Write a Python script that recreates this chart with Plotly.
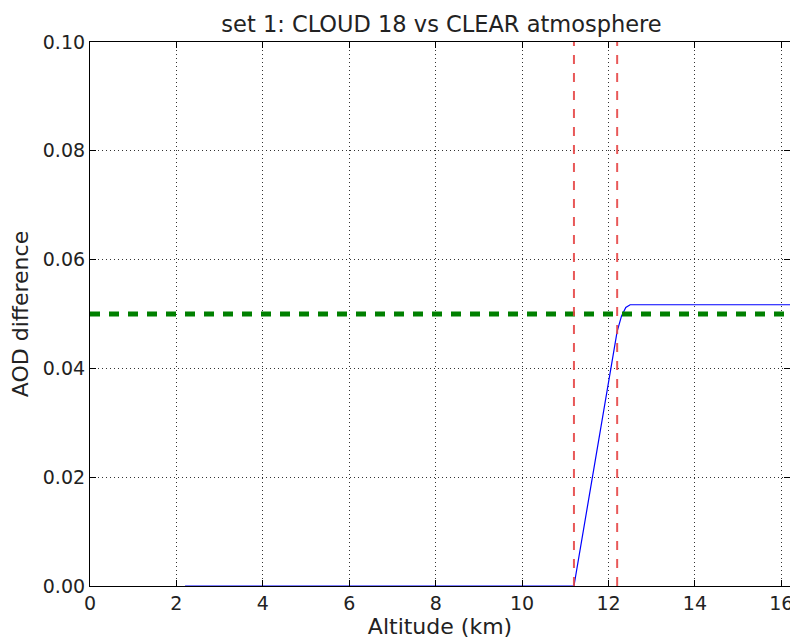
import plotly.graph_objects as go

# Data
altitude_km = [2.2, 4.0, 6.0, 8.0, 10.0, 11.2, 12.2, 12.3, 12.4, 12.5, 14.0, 16.2]
aod_diff = [0.0, 0.0, 0.0, 0.0, 0.0, 0.0, 0.0468, 0.0496, 0.0512, 0.0517, 0.0517, 0.0517]
cloud_bounds_km = [11.2, 12.2]
threshold = 0.05
x_range = [0, 16.2]
y_range = [0, 0.10]
x_ticks = [0, 2, 4, 6, 8, 10, 12, 14, 16]
y_ticks = [0.00, 0.02, 0.04, 0.06, 0.08, 0.10]

FONT = "DejaVu Sans"

fig = go.Figure()

fig.add_trace(go.Scatter(
    x=altitude_km, y=aod_diff, mode="lines",
    line=dict(color="#0000ff", width=1.2), showlegend=False))

fig.add_trace(go.Scatter(
    x=x_range, y=[threshold, threshold], mode="lines",
    line=dict(color="#008000", width=5, dash="10px,9px"), showlegend=False))

for xb in cloud_bounds_km:
    fig.add_trace(go.Scatter(
        x=[xb, xb], y=y_range, mode="lines",
        line=dict(color="rgba(230,70,70,0.9)", width=2, dash="9px,9px"),
        showlegend=False))

axis_common = dict(
    showline=True, linecolor="black", linewidth=1.2, mirror="allticks",
    ticks="inside", ticklen=6, tickcolor="black", tickwidth=1,
    showgrid=True, gridcolor="#333333", gridwidth=1, griddash="1px,3px",
    zeroline=False, tickfont=dict(family=FONT, size=19, color="#222222"),
)

fig.update_xaxes(
    range=x_range, tickvals=x_ticks, ticktext=[str(v) for v in x_ticks],
    title=dict(text="Altitude (km)", font=dict(family=FONT, size=22, color="#222222"), standoff=3),
    **axis_common)
fig.update_yaxes(
    range=y_range, tickvals=y_ticks, ticktext=[f"{v:.2f}" for v in y_ticks],
    title=dict(text="AOD difference", font=dict(family=FONT, size=22, color="#222222"), standoff=10),
    **axis_common)

fig.update_layout(
    width=790, height=632,
    margin=dict(l=82, r=5, t=34, b=54),
    paper_bgcolor="white", plot_bgcolor="white",
    title=dict(text="set 1: CLOUD 18 vs CLEAR atmosphere",
               font=dict(family=FONT, size=22.5, color="#222222"),
               x=(82 + 785) / 2 / 790, xanchor="center", y=1 - 16 / 632, yanchor="middle"),
    font=dict(family=FONT, color="#222222"),
)

fig.write_html("out.html")
